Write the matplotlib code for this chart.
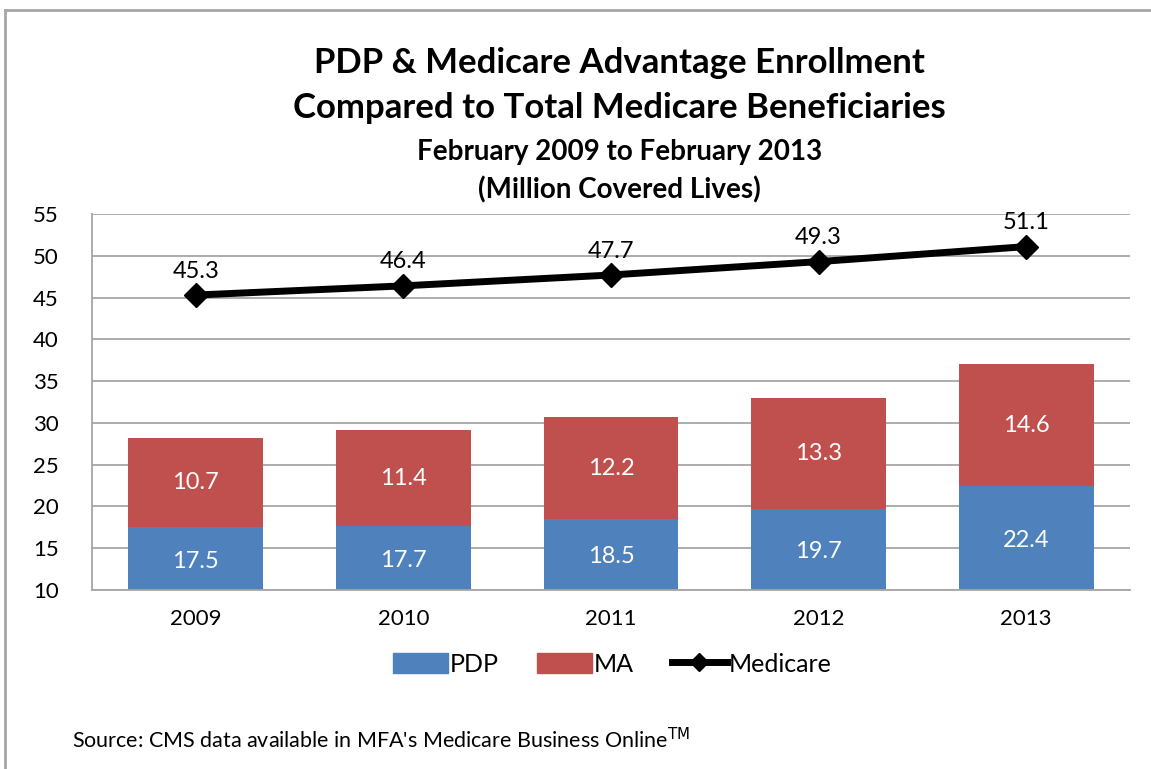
import matplotlib
matplotlib.use("Agg")
import matplotlib.pyplot as plt
from matplotlib.patches import Rectangle
from matplotlib.lines import Line2D
import numpy as np

plt.rcParams['font.family'] = ['Lato', 'DejaVu Sans']

# data (million covered lives)
years = ['2009', '2010', '2011', '2012', '2013']
pdp = [17.5, 17.7, 18.5, 19.7, 22.4]
ma = [10.7, 11.4, 12.2, 13.3, 14.6]
medicare = [45.3, 46.4, 47.7, 49.3, 51.1]

pdp_color = '#4F81BD'
ma_color = '#C0504D'
grid_color = '#A6A6A6'

fig = plt.figure(figsize=(11.51, 7.69), dpi=100)
ax = fig.add_axes([92 / 1151, 1 - 590 / 769, 1038 / 1151, 376 / 769])

x = np.arange(len(years))
ax.bar(x, pdp, width=0.65, color=pdp_color, zorder=2)
ax.bar(x, ma, width=0.65, bottom=pdp, color=ma_color, zorder=2)
ax.plot(x, medicare, color='black', lw=5, marker='D', ms=12, zorder=3)

# labels inside bars
for i in range(len(years)):
    ax.text(x[i], (10 + pdp[i]) / 2 - 0.3, '{:.1f}'.format(pdp[i]), ha='center', va='center',
            color='white', fontsize=17, zorder=4)
    ax.text(x[i], pdp[i] + ma[i] / 2, '{:.1f}'.format(ma[i]), ha='center', va='center',
            color='white', fontsize=17, zorder=4)
    ax.text(x[i], medicare[i] + 1.6, '{:.1f}'.format(medicare[i]), ha='center', va='bottom',
            color='black', fontsize=17, zorder=4)

ax.set_xlim(-0.5, len(years) - 0.5)
ax.set_ylim(10, 55)
ax.set_yticks(range(10, 56, 5))
ax.set_xticks(x)
ax.set_xticklabels(years)
ax.yaxis.grid(True, color=grid_color, lw=1.3, zorder=0)
ax.set_axisbelow(True)
for s in ['top', 'right']:
    ax.spines[s].set_visible(False)
for s in ['left', 'bottom']:
    ax.spines[s].set_color(grid_color)
    ax.spines[s].set_linewidth(1.3)
ax.tick_params(axis='both', length=0, labelsize=16, colors='black')
ax.tick_params(axis='y', pad=24)
ax.tick_params(axis='x', pad=14)

# titles
fig.text(0.538, 1 - 63 / 769, 'PDP & Medicare Advantage Enrollment', ha='center', va='center',
         fontsize=25, fontweight='bold')
fig.text(0.538, 1 - 108 / 769, 'Compared to Total Medicare Beneficiaries', ha='center', va='center',
         fontsize=25, fontweight='bold')
fig.text(0.538, 1 - 152 / 769, 'February 2009 to February 2013', ha='center', va='center',
         fontsize=20, fontweight='bold')
fig.text(0.538, 1 - 190 / 769, '(Million Covered Lives)', ha='center', va='center',
         fontsize=20, fontweight='bold')

# legend
handles = [Rectangle((0, 0), 1, 1, color=pdp_color),
           Rectangle((0, 0), 1, 1, color=ma_color),
           Line2D([], [], color='black', lw=5, marker='D', ms=9)]
fig.legend(handles, ['PDP', 'MA', 'Medicare'], loc='center', bbox_to_anchor=(0.532, 1 - 664 / 769),
           ncol=3, frameon=False, fontsize=18, handlelength=2.2, handletextpad=0.1,
           columnspacing=1.5, handleheight=0.9)

fig.text(72 / 1151, 1 - 740 / 769, "Source: CMS data available in MFA's Medicare Business Online$^{\\mathrm{TM}}$",
         ha='left', va='center', fontsize=15.5)

# outer frame (top and left edges only, as in the cropped original)
fig.add_artist(Line2D([5 / 1151, 5 / 1151], [0, 1 - 10 / 769], transform=fig.transFigure,
                      color=grid_color, lw=2))
fig.add_artist(Line2D([5 / 1151, 1], [1 - 10 / 769, 1 - 10 / 769], transform=fig.transFigure,
                      color=grid_color, lw=2))

fig.savefig('out.png', dpi=100)
